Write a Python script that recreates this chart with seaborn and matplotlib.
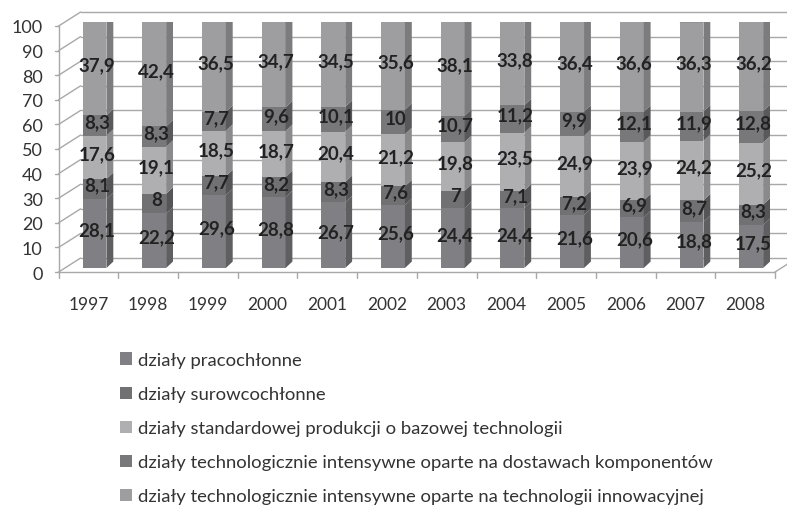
import matplotlib
matplotlib.use("Agg")
import matplotlib.pyplot as plt
import seaborn as sns
import pandas as pd
import numpy as np
from matplotlib.patches import Polygon, Patch
from matplotlib.lines import Line2D
from matplotlib.transforms import ScaledTranslation, IdentityTransform

years = ["1997", "1998", "1999", "2000", "2001", "2002", "2003", "2004", "2005", "2006", "2007", "2008"]
series_names = [
    "działy pracochłonne",
    "działy surowcochłonne",
    "działy standardowej produkcji o bazowej technologii",
    "działy technologicznie intensywne oparte na dostawach komponentów",
    "działy technologicznie intensywne oparte na technologii innowacyjnej",
]
pracochlonne = [28.1, 22.2, 29.6, 28.8, 26.7, 25.6, 24.4, 24.4, 21.6, 20.6, 18.8, 17.5]
surowcochlonne = [8.1, 8, 7.7, 8.2, 8.3, 7.6, 7, 7.1, 7.2, 6.9, 8.7, 8.3]
standardowe = [17.6, 19.1, 18.5, 18.7, 20.4, 21.2, 19.8, 23.5, 24.9, 23.9, 24.2, 25.2]
komponenty = [8.3, 8.3, 7.7, 9.6, 10.1, 10, 10.7, 11.2, 9.9, 12.1, 11.9, 12.8]
innowacyjne = [37.9, 42.4, 36.5, 34.7, 34.5, 35.6, 38.1, 33.8, 36.4, 36.6, 36.3, 36.2]
yticks = list(range(0, 101, 10))

series = [pracochlonne, surowcochlonne, standardowe, komponenty, innowacyjne]
colors = ["#808084", "#717174", "#afafb1", "#78787b", "#9e9ea1"]
side_colors = ["#5f5f62", "#555558", "#8a8a8d", "#59595c", "#7c7c7f"]
top_color = "#6e6e71"
grid_color = "#a8a8a8"
text_color = "#333333"

sns.set_theme(style="white")
plt.rcParams['font.family'] = ['Lato', 'DejaVu Sans']

DPI = 100
fig = plt.figure(figsize=(7.87, 5.06), dpi=DPI)
ax = fig.add_axes([64.65/787, (506-269)/506, 716.4/787, 246/506])
ax.patch.set_visible(False)
ax.set_zorder(2)

df = pd.DataFrame({"year": years})
cum = np.zeros(len(years))
cums = []
for s in series:
    cum = cum + np.array(s)
    cums.append(cum.copy())

bw = 0.40
for i in range(len(series) - 1, -1, -1):
    df["v"] = cums[i]
    sns.barplot(data=df, x="year", y="v", color=colors[i], saturation=1,
                width=bw, ax=ax, zorder=3, edgecolor="none", linewidth=0)

ax.set_ylim(0, 100)
ax.set_xlim(-0.5, 11.5)

# 3D side faces
dx, dy = 0.115, 2.6
for j in range(len(years)):
    x1 = j + bw / 2
    x0 = j - bw / 2
    bottom = 0.0
    for i, s in enumerate(series):
        top = bottom + s[j]
        ax.add_patch(Polygon([(x1, bottom), (x1 + dx, bottom + dy), (x1 + dx, top + dy), (x1, top)],
                             closed=True, facecolor=side_colors[i], edgecolor="none", zorder=3))
        bottom = top
    ax.add_patch(Polygon([(x0, bottom), (x0 + dx, bottom + dy), (x1 + dx, bottom + dy), (x1, bottom)],
                         closed=True, facecolor=top_color, edgecolor="none", zorder=3))

# data labels
for j in range(len(years)):
    bottom = 0.0
    for i, s in enumerate(series):
        v = s[j]
        lab = f"{v:g}".replace(".", ",")
        ax.text(j + 0.04, bottom + v / 2 + 1.5, lab, ha="center", va="center",
                fontsize=13.5, fontweight="bold", color="#222222", zorder=5)
        bottom += v

for sp in ax.spines.values():
    sp.set_visible(False)
ax.grid(False)
ax.set_xlabel("")
ax.set_ylabel("")
ax.set_yticks(yticks)

# 3D frame offsets (pixels): front plane and back wall
FX, FY = -6, -4
BX, BY = 16, 10
front = ScaledTranslation(FX / DPI, FY / DPI, fig.dpi_scale_trans)

ax.tick_params(axis="y", labelsize=13, colors=text_color, length=0, pad=11.5)
ax.tick_params(axis="x", labelsize=12.5, colors=text_color, length=0, pad=17)
for lab in ax.get_yticklabels() + ax.get_xticklabels():
    lab.set_transform(lab.get_transform() + front)

# frame lines in display pixels, derived from data coordinates
ident = IdentityTransform()
def disp(x, y):
    return ax.transData.transform((x, y))

def frame_line(xs, ys):
    fig.add_artist(Line2D(xs, ys, transform=ident, color=grid_color, lw=1.0, zorder=1))

xl, xr = -0.5, 11.5
for v in yticks:
    fx, fy = disp(xl, v)
    rx, _ = disp(xr, v)
    frame_line([fx + BX, rx + BX + 30], [fy + BY, fy + BY])   # back wall gridline
    frame_line([fx + FX, fx + BX], [fy + FY, fy + BY])        # left wall diagonal
    frame_line([fx + FX - 4, fx + FX], [fy + FY, fy + FY])    # small front tick

fx0, fy0 = disp(xl, 0)
_, fy100 = disp(xl, 100)
frame_line([fx0 + FX, fx0 + FX], [fy0 + FY, fy100 + FY])      # front left axis
rx0, _ = disp(xr, 0)
frame_line([fx0 + FX, rx0 + FX], [fy0 + FY, fy0 + FY])        # front floor line
frame_line([rx0 + FX, rx0 + BX], [fy0 + FY, fy0 + BY])        # right floor diagonal
for k in range(len(years) + 1):
    bx, _ = disp(xl + k, 0)
    frame_line([bx + FX, bx + FX], [fy0 + FY, fy0 + FY - 6])  # category boundary ticks

handles = [Patch(facecolor=c, edgecolor="none") for c in colors]
fig.legend(handles, series_names, loc="upper left", bbox_to_anchor=(109/787, 1 - 342/506),
           frameon=False, fontsize=13.3, labelspacing=0.98, handlelength=0.65, handleheight=0.65,
           handletextpad=0.3, labelcolor=text_color, borderpad=0.1)

fig.savefig("out.png", dpi=DPI)
